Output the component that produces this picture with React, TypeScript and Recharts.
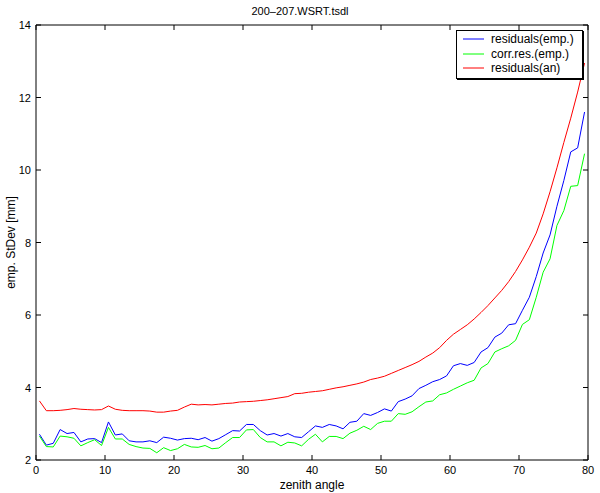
import React from 'react';
import { LineChart, Line, XAxis, YAxis, Legend } from 'recharts';

const zenith = [
  0.5, 1.5, 2.5, 3.5, 4.5, 5.5, 6.5, 7.5, 8.5, 9.5,
  10.5, 11.5, 12.5, 13.5, 14.5, 15.5, 16.5, 17.5, 18.5, 19.5,
  20.5, 21.5, 22.5, 23.5, 24.5, 25.5, 26.5, 27.5, 28.5, 29.5,
  30.5, 31.5, 32.5, 33.5, 34.5, 35.5, 36.5, 37.5, 38.5, 39.5,
  40.5, 41.5, 42.5, 43.5, 44.5, 45.5, 46.5, 47.5, 48.5, 49.5,
  50.5, 51.5, 52.5, 53.5, 54.5, 55.5, 56.5, 57.5, 58.5, 59.5,
  60.5, 61.5, 62.5, 63.5, 64.5, 65.5, 66.5, 67.5, 68.5, 69.5,
  70.5, 71.5, 72.5, 73.5, 74.5, 75.5, 76.5, 77.5, 78.5, 79.5,
];

const residualsEmp = [
  2.71, 2.41, 2.46, 2.84, 2.73, 2.76, 2.5, 2.58, 2.59, 2.48,
  3.05, 2.69, 2.72, 2.53, 2.5, 2.5, 2.53, 2.48, 2.63, 2.6,
  2.55, 2.59, 2.6, 2.56, 2.62, 2.52, 2.59, 2.7, 2.81, 2.8,
  2.98, 2.98, 2.81, 2.69, 2.73, 2.66, 2.73, 2.64, 2.62, 2.78,
  2.94, 2.9, 2.98, 2.94, 2.86, 3.04, 3.07, 3.28, 3.23, 3.31,
  3.41, 3.35, 3.61, 3.68, 3.77, 3.97, 4.06, 4.16, 4.22, 4.32,
  4.6, 4.66, 4.61, 4.69, 4.98, 5.1, 5.39, 5.5, 5.73, 5.76,
  6.13, 6.49, 7.06, 7.71, 8.21, 9.0, 9.71, 10.5, 10.61, 11.6,
];

const corrResEmp = [
  2.66, 2.37, 2.36, 2.66, 2.64, 2.6, 2.39, 2.48, 2.56, 2.4,
  2.9, 2.58, 2.58, 2.43, 2.37, 2.33, 2.32, 2.2, 2.34, 2.26,
  2.31, 2.43, 2.36, 2.35, 2.4, 2.31, 2.33, 2.48, 2.62, 2.62,
  2.83, 2.84, 2.62, 2.5, 2.5, 2.39, 2.49, 2.47, 2.39, 2.57,
  2.71, 2.5, 2.65, 2.65, 2.59, 2.74, 2.82, 2.93, 2.84, 3.01,
  3.07, 3.07, 3.28, 3.26, 3.33, 3.47, 3.6, 3.63, 3.8, 3.85,
  3.95, 4.04, 4.13, 4.2, 4.54, 4.66, 4.98, 5.07, 5.15, 5.3,
  5.74, 5.87, 6.49, 7.18, 7.55, 8.47, 8.88, 9.55, 9.57, 10.45,
];

const residualsAn = [
  3.63, 3.36, 3.36, 3.37, 3.39, 3.42, 3.4, 3.39, 3.38, 3.39,
  3.49, 3.4, 3.37, 3.36, 3.36, 3.36, 3.35, 3.32, 3.32, 3.35,
  3.37, 3.46, 3.54, 3.52, 3.53, 3.52, 3.54, 3.56, 3.57, 3.6,
  3.61, 3.62, 3.64, 3.66, 3.69, 3.72, 3.75, 3.83, 3.84, 3.87,
  3.89, 3.91, 3.95, 3.99, 4.02, 4.06, 4.1, 4.15, 4.22, 4.26,
  4.31, 4.39, 4.47, 4.55, 4.63, 4.72, 4.84, 4.95, 5.1, 5.3,
  5.47, 5.6, 5.73, 5.89, 6.07, 6.26, 6.47, 6.68, 6.92, 7.2,
  7.52, 7.87, 8.26, 8.79, 9.4, 10.06, 10.76, 11.43, 12.15, 12.95,
];

const xTicks = [0, 10, 20, 30, 40, 50, 60, 70, 80];
const yTicks = [2, 4, 6, 8, 10, 12, 14];

const seriesNames = ['residuals(emp.)', 'corr.res.(emp.)', 'residuals(an)'];
const seriesColors = ['#0000ff', '#00ff00', '#ff0000'];

const data = zenith.map((x, i) => ({
  x,
  emp: residualsEmp[i],
  corr: corrResEmp[i],
  an: residualsAn[i],
}));

const FONT = '"Liberation Sans", Arial, Helvetica, sans-serif';
const TICK_LEN = 5;

const BottomTick = (props: any) => {
  const { x, y, payload } = props;
  return (
    <g>
      <line x1={x} y1={y} x2={x} y2={y - TICK_LEN} stroke="#000" strokeWidth={1} />
      <text x={x} y={y + 14} textAnchor="middle" fontSize={11} fontFamily={FONT} fill="#000">
        {payload.value}
      </text>
    </g>
  );
};

const TopTick = (props: any) => {
  const { x, y } = props;
  return <line x1={x} y1={y} x2={x} y2={y + TICK_LEN} stroke="#000" strokeWidth={1} />;
};

const LeftTick = (props: any) => {
  const { x, y, payload } = props;
  return (
    <g>
      <line x1={x} y1={y} x2={x + TICK_LEN} y2={y} stroke="#000" strokeWidth={1} />
      <text x={x - 5} y={y + 4} textAnchor="end" fontSize={11} fontFamily={FONT} fill="#000">
        {payload.value}
      </text>
    </g>
  );
};

const RightTick = (props: any) => {
  const { x, y } = props;
  return <line x1={x} y1={y} x2={x - TICK_LEN} y2={y} stroke="#000" strokeWidth={1} />;
};

const LegendBox = (props: any) => {
  const payload = [...(props.payload || [])].sort(
    (a: any, b: any) => seriesNames.indexOf(a.value) - seriesNames.indexOf(b.value)
  );
  return (
    <div
      style={{
        background: '#fff',
        border: '1px solid #000',
        boxShadow: '1px 1px 0 #000',
        padding: '1px 0 2px 0',
        fontFamily: FONT,
        fontSize: 12,
        lineHeight: '14.5px',
      }}
    >
      {payload.map((p: any) => (
        <div key={p.value} style={{ display: 'flex', alignItems: 'center', height: 14.5 }}>
          <svg width={34} height={10} style={{ flex: 'none' }}>
            <line x1={6} y1={5} x2={27} y2={5} stroke={p.color} strokeWidth={1} />
          </svg>
          <span style={{ color: '#000', whiteSpace: 'nowrap' }}>{p.value}</span>
        </div>
      ))}
    </div>
  );
};

export default function App() {
  return (
    <div style={{ position: 'absolute', left: 0, top: 0, width: 600, height: 493, background: '#fff' }}>
      <LineChart
        width={600}
        height={493}
        data={data}
        margin={{ top: 20, right: 7, bottom: 13, left: 6 }}
      >
        <XAxis
          dataKey="x"
          type="number"
          domain={[0, 80]}
          ticks={xTicks}
          allowDataOverflow
          height={20}
          tickSize={0}
          tickMargin={0}
          tickLine={false}
          axisLine={{ stroke: '#000' }}
          tick={<BottomTick />}
          interval={0}
          label={{
            content: (p: any) => {
              const vb = p.viewBox || {};
              return (
                <text
                  x={vb.x + vb.width / 2}
                  y={vb.y + vb.height + 9}
                  textAnchor="middle"
                  fontSize={12}
                  fontFamily={FONT}
                  fill="#000"
                >
                  zenith angle
                </text>
              );
            },
          }}
        />
        <XAxis
          xAxisId="top"
          orientation="top"
          dataKey="x"
          type="number"
          domain={[0, 80]}
          ticks={xTicks}
          allowDataOverflow
          height={5}
          tickSize={0}
          tickMargin={0}
          tickLine={false}
          axisLine={{ stroke: '#000' }}
          tick={<TopTick />}
          interval={0}
          label={{
            content: (p: any) => {
              const vb = p.viewBox || {};
              return (
                <text
                  x={vb.x + vb.width / 2 - 12}
                  y={15}
                  textAnchor="middle"
                  fontSize={11}
                  fontFamily={FONT}
                  fill="#000"
                >
                  200–207.WSRT.tsdl
                </text>
              );
            },
          }}
        />
        <YAxis
          type="number"
          domain={[2, 14]}
          ticks={yTicks}
          allowDataOverflow
          width={30}
          tickSize={0}
          tickMargin={0}
          tickLine={false}
          axisLine={{ stroke: '#000' }}
          tick={<LeftTick />}
          interval={0}
          label={{
            content: (p: any) => {
              const vb = p.viewBox || {};
              const cx = 15;
              const cy = vb.y + vb.height / 2;
              return (
                <text
                  x={cx}
                  y={cy}
                  transform={`rotate(-90, ${cx}, ${cy})`}
                  textAnchor="middle"
                  fontSize={12}
                  fontFamily={FONT}
                  fill="#000"
                >
                  emp. StDev [mm]
                </text>
              );
            },
          }}
        />
        <YAxis
          yAxisId="right"
          orientation="right"
          type="number"
          domain={[2, 14]}
          ticks={yTicks}
          allowDataOverflow
          width={5}
          tickSize={0}
          tickMargin={0}
          tickLine={false}
          axisLine={{ stroke: '#000' }}
          tick={<RightTick />}
          interval={0}
        />
        <Legend
          layout="horizontal"
          verticalAlign="middle"
          align="center"
          itemSorter={null as any}
          content={<LegendBox />}
          wrapperStyle={{ left: 456, top: 30, width: 127, height: 'auto' }}
        />
        <Line
          dataKey="emp"
          name={seriesNames[0]}
          stroke={seriesColors[0]}
          strokeWidth={1}
          dot={false}
          type="linear"
          isAnimationActive={false}
        />
        <Line
          dataKey="corr"
          name={seriesNames[1]}
          stroke={seriesColors[1]}
          strokeWidth={1}
          dot={false}
          type="linear"
          isAnimationActive={false}
        />
        <Line
          dataKey="an"
          name={seriesNames[2]}
          stroke={seriesColors[2]}
          strokeWidth={1}
          dot={false}
          type="linear"
          isAnimationActive={false}
        />
      </LineChart>
    </div>
  );
}
